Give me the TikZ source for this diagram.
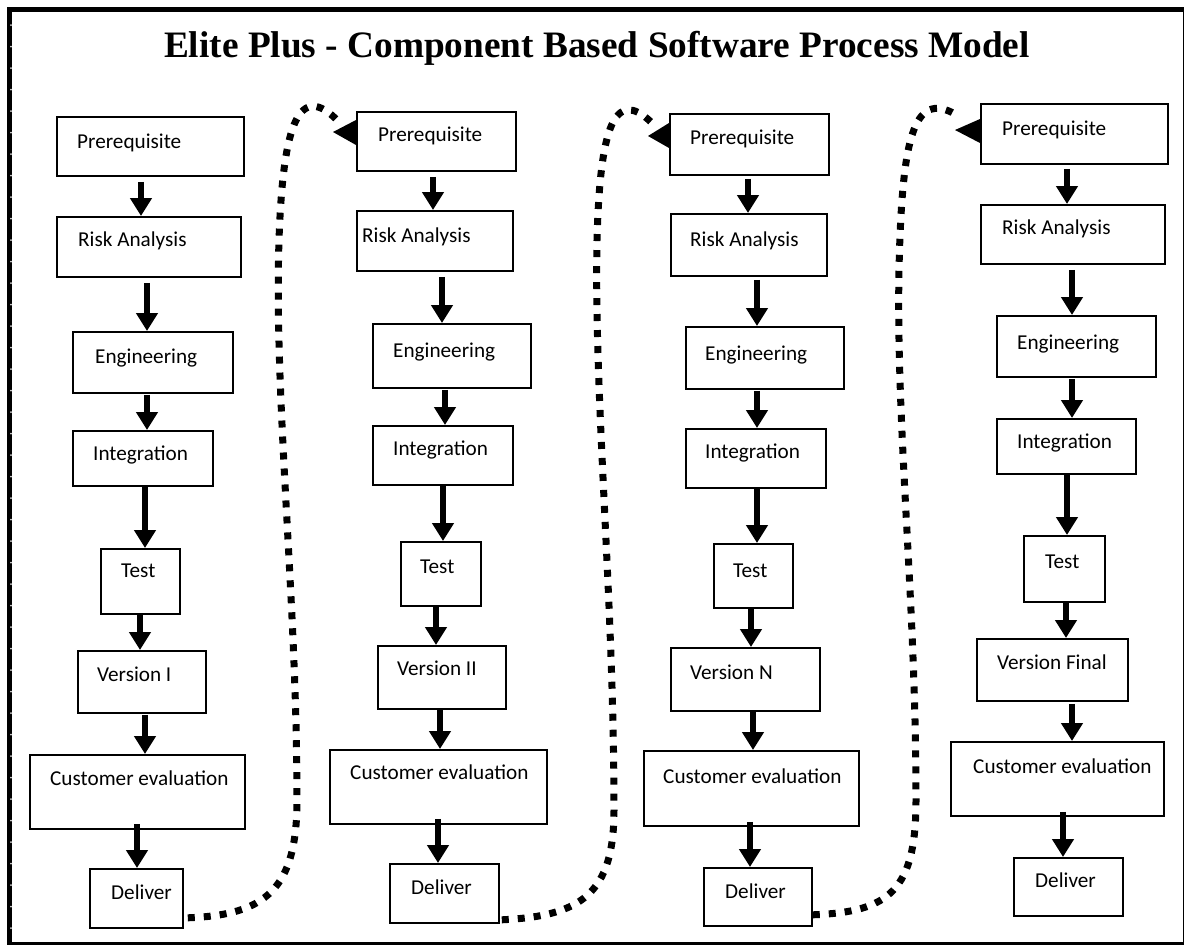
\documentclass[tikz,border=0pt]{standalone}
\usepackage{fontspec}
\setmainfont{Liberation Serif}
\newfontfamily\boxfont{Carlito}
\usetikzlibrary{arrows.meta,calc}

\tikzset{
  stagebox/.style={draw=black, line width=1.8pt, fill=white, inner sep=0pt, anchor=north west},
  stagetext/.style={anchor=base west, inner sep=0pt, font=\boxfont\fontsize{21.2}{25}\selectfont},
  flow/.style={line width=6pt, -{Triangle[length=18pt,width=21pt]}},
  loopback/.style={line width=7pt, dash pattern=on 7pt off 9pt},
  loophead/.style={fill=black},
  framerule/.style={draw=black}
}

% one process stage: name, left, top, right, bottom, text x, text baseline, text
\newcommand\stage[8]{%
  \node[stagebox, minimum width=#4-#2, minimum height=#5-#3] (#1) at (#2,#3) {};
  \node[stagetext] (#1-t) at (#6,#7) {#8};
}
% arrow between stages: from, to, x position, start gap
\newcommand\flow[4]{%
  \draw[flow, shorten <=#4pt] (#1.south -| #3,0) -- (#2.north -| #3,0);
}

\begin{document}
\begin{tikzpicture}[x=1pt,y=-1pt]
\useasboundingbox (0,0) rectangle (1184,945);
\fill[white] (0,0) rectangle (1184,945);

% page frame
\draw[framerule, line width=5pt] (7,9.5) -- (1184,9.5);
\draw[framerule, line width=5pt] (9.5,7) -- (9.5,945);
\draw[framerule, line width=3pt] (7,943.5) -- (1184,943.5);
\draw[framerule, line width=1.2pt] (1183.4,7) -- (1183.4,945);
\foreach \yy in {25,46.5,...,935} {\fill[white!85!black] (11,\yy) circle (1pt);}

% title
\node[anchor=base, inner sep=0pt, font=\bfseries\fontsize{37.3}{42}\selectfont] (title) at (597,57)
  {Elite Plus - Component Based Software Process Model};

% column 1
\stage{a1}{56}{116}{243}{175}{77}{148}{Prerequisite}
\stage{a2}{56}{216}{240}{276}{78}{246}{Risk Analysis}
\stage{a3}{72}{331}{232}{392}{95}{363}{Engineering}
\stage{a4}{72}{430}{212}{485}{93}{460}{Integration}
\stage{a5}{100}{548}{179}{613}{121}{577}{Test}
\stage{a6}{77}{650}{205}{712}{97}{681}{Version I}
\stage{a7}{29}{754}{244}{828}{50}{785}{Customer evaluation}
\stage{a8}{89}{868}{182}{927}{111}{899}{Deliver}

% column 2
\stage{b1}{356}{111}{515}{170}{378}{141}{Prerequisite}
\stage{b2}{356}{210}{512}{270}{362}{242}{Risk Analysis}
\stage{b3}{372}{323}{530}{387}{393}{357}{Engineering}
\stage{b4}{372}{425}{512}{484}{393}{455}{Integration}
\stage{b5}{400}{541}{480}{605}{420}{573}{Test}
\stage{b6}{377}{645}{505}{708}{397}{675}{Version II}
\stage{b7}{329}{749}{546}{823}{350}{779}{Customer evaluation}
\stage{b8}{389}{863}{498}{922}{411}{894}{Deliver}

% column 3
\stage{c1}{669}{113}{828}{174}{690}{144}{Prerequisite}
\stage{c2}{670}{213}{826}{275}{690}{246}{Risk Analysis}
\stage{c3}{685}{326}{843}{388}{705}{360}{Engineering}
\stage{c4}{685}{428}{825}{487}{705}{458}{Integration}
\stage{c5}{713}{543}{792}{607}{733}{577}{Test}
\stage{c6}{670}{647}{819}{710}{690}{679}{Version N}
\stage{c7}{643}{750}{858}{825}{663}{783}{Customer evaluation}
\stage{c8}{703}{867}{811}{925}{725}{898}{Deliver}

% column 4
\stage{d1}{980}{103}{1167}{163}{1002}{135}{Prerequisite}
\stage{d2}{980}{204}{1164}{263}{1002}{234}{Risk Analysis}
\stage{d3}{996}{315}{1155}{376}{1017}{349}{Engineering}
\stage{d4}{996}{418}{1135}{473}{1017}{448}{Integration}
\stage{d5}{1023}{535}{1104}{601}{1045}{568}{Test}
\stage{d6}{976}{638}{1127}{700}{997}{669}{Version Final}
\stage{d7}{950}{741}{1163}{815}{973}{773}{Customer evaluation}
\stage{d8}{1013}{857}{1122}{915}{1035}{887}{Deliver}

% stage arrows
\flow{a1}{a2}{141}{5}  \flow{a2}{a3}{147}{5}  \flow{a3}{a4}{147}{1}  \flow{a4}{a5}{145}{0}
\flow{a5}{a6}{140}{0}  \flow{a6}{a7}{145}{1}  \flow{a7}{a8}{137}{-6}
\flow{b1}{b2}{433}{5}  \flow{b2}{b3}{442}{5}  \flow{b3}{b4}{445}{1}  \flow{b4}{b5}{443}{0}
\flow{b5}{b6}{436}{0}  \flow{b6}{b7}{440}{0}  \flow{b7}{b8}{438}{-6}
\flow{c1}{c2}{748}{3}  \flow{c2}{c3}{757}{3}  \flow{c3}{c4}{757}{1}  \flow{c4}{c5}{757}{0}
\flow{c5}{c6}{751}{0}  \flow{c6}{c7}{753}{0}  \flow{c7}{c8}{750}{-5}
\flow{d1}{d2}{1067}{4} \flow{d2}{d3}{1072}{5} \flow{d3}{d4}{1072}{1} \flow{d4}{d5}{1067}{0}
\flow{d5}{d6}{1066}{0} \flow{d6}{d7}{1072}{2} \flow{d7}{d8}{1063}{-5}

% dotted hand-over from each delivery to the next iteration
\coordinate (l1s) at ($(a8.south east)+(4,-11)$);
\coordinate (l1e) at ($(b1.north west)+(-18,10)$);
\draw[loopback] (l1s) .. controls (265,915) and (297,890) .. (297,800)
  .. controls (297,600) and (274,400) .. (279,240)
  .. controls (283,120) and (300,82) .. (l1e);
\fill[loophead] ($(b1.north west)+(0,9)$) -- ($(b1.north west)+(0,34)$) -- ($(b1.north west)+(-23,21)$) -- cycle;

\coordinate (l2s) at ($(b8.south east)+(2,-4)$);
\coordinate (l2e) at ($(c1.north west)+(-18,9)$);
\draw[loopback] (l2s) .. controls (580,916) and (614,895) .. (614,810)
  .. controls (614,600) and (594,400) .. (597,240)
  .. controls (600,125) and (615,88) .. (l2e);
\fill[loophead] ($(c1.north west)+(0,10)$) -- ($(c1.north west)+(0,35)$) -- ($(c1.north west)+(-21,23)$) -- cycle;

\coordinate (l3s) at ($(c8.south east)+(0,-12)$);
\coordinate (l3e) at ($(d1.north west)+(-20,14)$);
\draw[loopback] (l3s) .. controls (890,912) and (916,890) .. (916,800)
  .. controls (916,600) and (896,430) .. (899,270)
  .. controls (902,130) and (915,88) .. (l3e);
\fill[loophead] ($(d1.north west)+(0,16)$) -- ($(d1.north west)+(0,40)$) -- ($(d1.north west)+(-25,27)$) -- cycle;
\end{tikzpicture}
\end{document}
